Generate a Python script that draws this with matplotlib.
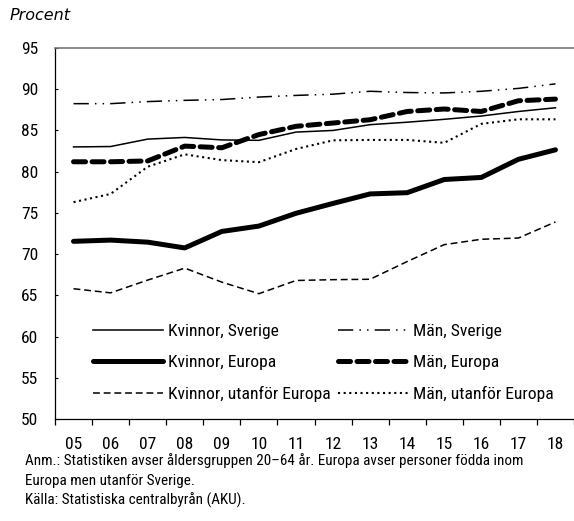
import numpy as np
import matplotlib
matplotlib.use('Agg')
import matplotlib.pyplot as plt
from matplotlib import font_manager as fm

years = ['05', '06', '07', '08', '09', '10', '11', '12', '13', '14', '15', '16', '17', '18']

kvinnor_sverige = [83.0, 83.05, 83.95, 84.15, 83.85, 83.8, 84.8, 85.0, 85.7, 86.0, 86.35, 86.75, 87.3, 87.75]
man_sverige = [88.25, 88.25, 88.5, 88.65, 88.75, 89.05, 89.25, 89.4, 89.75, 89.6, 89.55, 89.75, 90.1, 90.65]
kvinnor_europa = [71.55, 71.7, 71.45, 70.75, 72.75, 73.4, 74.95, 76.15, 77.3, 77.45, 79.05, 79.3, 81.5, 82.65]
man_europa = [81.2, 81.2, 81.3, 83.1, 82.9, 84.5, 85.5, 85.9, 86.3, 87.3, 87.6, 87.3, 88.6, 88.8]
kvinnor_utanfor = [65.8, 65.3, 66.85, 68.3, 66.6, 65.2, 66.8, 66.9, 66.95, 69.1, 71.15, 71.8, 71.95, 73.9]
man_utanfor = [76.3, 77.3, 80.6, 82.1, 81.4, 81.15, 82.75, 83.8, 83.85, 83.85, 83.5, 85.8, 86.35, 86.35]

notes = ['Anm.: Statistiken avser åldersgruppen 20\u201364 år. Europa avser personer födda inom',
         'Europa men utanför Sverige.',
         'Källa: Statistiska centralbyrån (AKU).']

# pick a narrow font if there is one
names = set(f.name for f in fm.fontManager.ttflist)
font = 'DejaVu Sans'
stretch = 'condensed'
for cand in ['Liberation Sans Narrow', 'Roboto Condensed', 'Open Sans Condensed', 'Noto Sans Condensed']:
    if cand in names:
        font = cand
        break
plt.rcParams['font.family'] = font
plt.rcParams['font.stretch'] = stretch
fs = 12.6

fig = plt.figure(figsize=(5.74, 5.21), dpi=100)
ax = fig.add_axes([55 / 574, 1 - 419 / 521, 1 - 55 / 574, (419 - 48) / 521])

x = np.arange(len(years))
lines_left = []
lines_right = []
l, = ax.plot(x, kvinnor_sverige, color='black', lw=1.1, label='Kvinnor, Sverige')
lines_left.append(l)
l, = ax.plot(x, man_sverige, color='black', lw=1.1, dashes=(10, 4, 1, 4, 1, 4), label='Män, Sverige')
lines_right.append(l)
l, = ax.plot(x, kvinnor_europa, color='black', lw=3.6, solid_capstyle='round', label='Kvinnor, Europa')
lines_left.append(l)
l, = ax.plot(x, man_europa, color='black', lw=3.6, dashes=(2.4, 1.3), dash_capstyle='round', label='Män, Europa')
lines_right.append(l)
l, = ax.plot(x, kvinnor_utanfor, color='black', lw=1.1, dashes=(4.5, 2.5), label='Kvinnor, utanför Europa')
lines_left.append(l)
l, = ax.plot(x, man_utanfor, color='black', lw=1.5, dashes=(1, 1.7), label='Män, utanför Europa')
lines_right.append(l)

ax.set_ylim(50, 95)
ax.set_xlim(-0.5, -0.5 + 519 / 37.3)
ax.set_yticks(np.arange(50, 96, 5))
ax.set_xticks(x)
ax.set_xticklabels(years)
ax.set_xticks(np.arange(-0.5, 14, 1), minor=True)
ax.tick_params(axis='x', which='major', length=0, pad=13, labelsize=fs)
ax.tick_params(axis='x', which='minor', length=4.5, width=0.9, direction='out')
ax.tick_params(axis='y', length=2.5, width=0.8, direction='in', pad=12, labelsize=fs)

ax.spines['right'].set_visible(False)
ax.spines['top'].set_color('#777777')
ax.spines['top'].set_linewidth(1.2)
ax.spines['left'].set_linewidth(0.9)
ax.spines['bottom'].set_linewidth(0.9)

leg_kw = dict(loc='center left', frameon=False, fontsize=fs, handlelength=4.0,
              handletextpad=0.3, labelspacing=0.92, borderpad=0, borderaxespad=0)
leg1 = ax.legend(handles=lines_left, bbox_to_anchor=((93 - 55) / 519, 1 - (363 - 48) / 371), **leg_kw)
ax.add_artist(leg1)
ax.legend(handles=lines_right, bbox_to_anchor=((338 - 55) / 519, 1 - (363 - 48) / 371), **leg_kw)

fig.text(10 / 574, 1 - 16 / 521, 'Procent', fontsize=11.5, style='italic', va='center', ha='left',
         family='DejaVu Sans', stretch='normal')
note_txt = []
for i, t in enumerate(notes):
    note_txt.append(fig.text(25 / 574, 1 - (461 + 19.5 * i) / 521, t, fontsize=fs, va='center', ha='left'))

# first note line should span about 497 px as in the original
fig.canvas.draw()
w = note_txt[0].get_window_extent().width
nfs = fs * 497 / w
for t in note_txt:
    t.set_fontsize(nfs)

fig.savefig('out.png', dpi=100)
